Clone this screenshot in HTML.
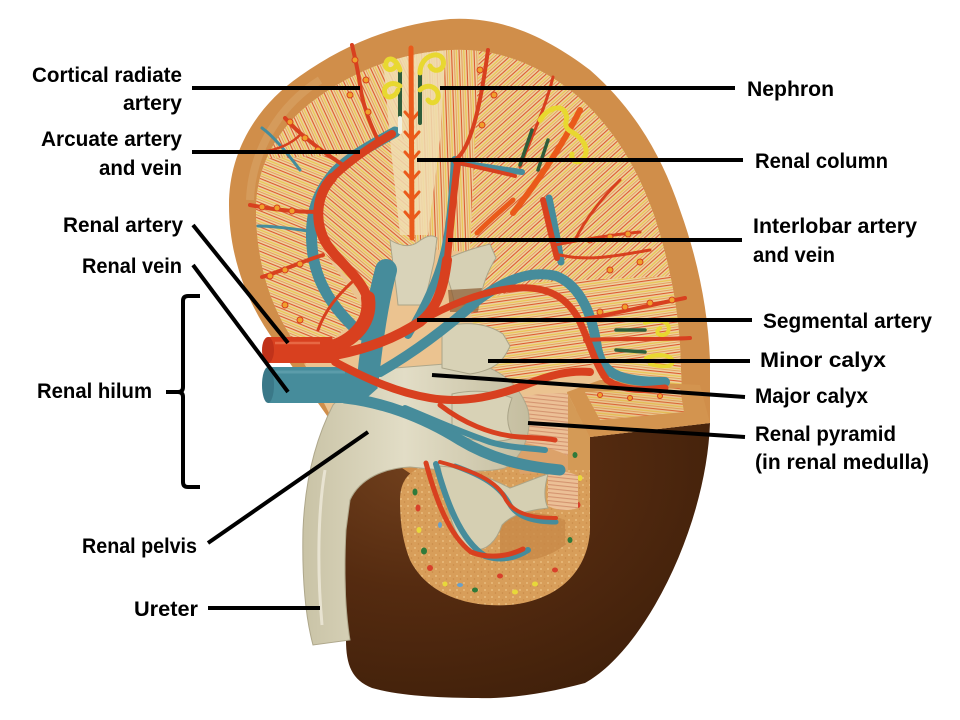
<!DOCTYPE html>
<html><head><meta charset="utf-8"><style>
html,body{margin:0;padding:0;background:#fff;}
svg{display:block;}
text{font-family:"Liberation Sans",Arial,sans-serif;font-weight:bold;font-size:21px;fill:#000;}
</style></head><body>
<svg width="960" height="720" viewBox="0 0 960 720" xmlns="http://www.w3.org/2000/svg" xmlns:xlink="http://www.w3.org/1999/xlink">
<defs>
 <pattern id="pS" patternUnits="userSpaceOnUse" width="12" height="7.5">
   <rect width="12" height="7.5" fill="#eed2a0"/>
   <rect y="0" width="12" height="1.1" fill="#dc5a30"/>
   <rect y="2.7" width="12" height="1.1" fill="#e8c64a"/>
   <rect y="5.0" width="12" height="0.9" fill="#e59a58"/>
 </pattern>
 <pattern id="p1" xlink:href="#pS" patternTransform="rotate(22)"/>
 <pattern id="p2" xlink:href="#pS" patternTransform="rotate(65)"/>
 <pattern id="p3" xlink:href="#pS" patternTransform="rotate(40)"/>
 <pattern id="p4" xlink:href="#pS" patternTransform="rotate(88)"/>
 <pattern id="p5" xlink:href="#pS" patternTransform="rotate(-42)"/>
 <pattern id="p6" xlink:href="#pS" patternTransform="rotate(-8)"/>
 <pattern id="p7" xlink:href="#pS" patternTransform="rotate(6)"/>
 <pattern id="pP" patternUnits="userSpaceOnUse" width="10" height="4" patternTransform="rotate(6)">
   <rect width="10" height="4" fill="#ecc096"/>
   <rect y="0" width="10" height="1.1" fill="#d49470"/>
 </pattern>
 <pattern id="pR" patternUnits="userSpaceOnUse" width="7" height="7">
   <rect width="7" height="7" fill="#d89e5a"/>
   <circle cx="2" cy="2" r="1" fill="#e8bc7c"/>
   <circle cx="5.5" cy="5" r="0.8" fill="#c98a48"/>
 </pattern>
 <clipPath id="cIn">
   <path d="M 290,335 C 268,300 256,258 256,208 C 257,160 282,122 320,96 C 357,70 402,52 452,50 C 500,48 540,66 575,94 C 610,124 636,164 654,215 C 668,258 677,300 680,345 L 682,395 L 600,400 L 420,470 L 330,415 Z"/>
 </clipPath>
 <radialGradient id="gB" cx="0.2" cy="0.15" r="0.9">
   <stop offset="0" stop-color="#71401d"/>
   <stop offset="0.5" stop-color="#552b10"/>
   <stop offset="1" stop-color="#42210b"/>
 </radialGradient>
 <linearGradient id="gU" x1="0" x2="1" y1="0" y2="0">
   <stop offset="0" stop-color="#c9c3a6"/>
   <stop offset="0.45" stop-color="#e2ddc6"/>
   <stop offset="1" stop-color="#c4bd9f"/>
 </linearGradient>
</defs>

<!-- brown base -->
<path d="M 345,505 C 345,482 356,470 378,466 L 420,466 L 590,437 L 710,423 C 708,480 688,548 655,605 C 630,648 605,672 585,683 C 545,694 505,699 478,698 C 440,698 400,696 372,688 C 352,680 346,665 346,640 Z" fill="url(#gB)"/>

<!-- kidney capsule -->
<path d="M 275,342 C 248,305 229,258 229,205 C 229,150 258,105 300,76 C 345,44 395,24 450,19 C 505,16 550,40 590,70 C 630,105 660,150 680,210 C 698,260 708,310 710,360 L 710,423 L 590,437 L 420,480 L 330,420 Z" fill="#d08e4a"/>
<path d="M 250,200 C 252,150 280,105 320,80" stroke="#d9a467" stroke-width="8" fill="none" opacity="0.6"/>

<!-- inner cortex sectors -->
<g clip-path="url(#cIn)">
 <rect x="220" y="30" width="480" height="460" fill="#ebc390"/>
 <polygon points="230,150 340,150 318,212 322,250 365,310 300,370 230,370" fill="url(#p1)"/>
 <polygon points="230,30 415,30 415,140 385,138 340,155 230,160" fill="url(#p2)"/>
 <polygon points="385,138 415,140 415,245 400,250 368,300 322,250 318,212 340,160" fill="url(#p3)"/>
 <polygon points="415,30 480,30 470,252 415,248" fill="url(#p4)"/>
 <polygon points="480,30 700,30 700,275 540,282 470,305 470,252" fill="url(#p5)"/>
 <polygon points="470,305 540,282 700,275 700,360 600,362 520,385 480,375" fill="url(#p6)"/>
 <polygon points="600,362 700,360 700,420 600,420" fill="url(#p7)"/>
 <!-- pale column -->
 <path d="M 382,48 L 446,48 L 440,140 L 428,235 L 400,235 L 390,140 Z" fill="#f0ddb0" opacity="0.85"/>
</g>

<!-- lower right cut face -->
<path d="M 567,392 L 600,380 L 700,385 L 710,423 L 590,437 Z" fill="#d3944f"/>
<path d="M 585,392 L 680,388 L 684,412 L 600,420 Z" fill="url(#p7)" opacity="0.8"/>

<!-- orange ring (cut cortex) -->
<path d="M 400,500 C 400,480 410,468 430,466 L 470,464 L 590,437 L 590,530 C 588,570 560,600 510,605 C 460,608 425,590 410,560 C 402,540 400,520 400,500 Z" fill="url(#pR)"/>
<path d="M 567,392 L 590,437 L 590,470 L 567,470 Z" fill="#d49a56"/>
<g>
 <ellipse cx="415" cy="492" rx="2.5" ry="3.5" fill="#2f7a3a"/>
 <ellipse cx="418" cy="508" rx="2.5" ry="3.5" fill="#d8402a"/>
 <ellipse cx="419" cy="530" rx="2.5" ry="3" fill="#e8d83a"/>
 <ellipse cx="424" cy="551" rx="3" ry="3.5" fill="#2f7a3a"/>
 <ellipse cx="430" cy="568" rx="3" ry="3" fill="#d8402a"/>
 <ellipse cx="445" cy="584" rx="2.5" ry="2.5" fill="#e8d83a"/>
 <ellipse cx="475" cy="590" rx="3" ry="2.5" fill="#2f7a3a"/>
 <ellipse cx="500" cy="576" rx="3" ry="2.5" fill="#d8402a"/>
 <ellipse cx="515" cy="592" rx="3" ry="2.5" fill="#e8d83a"/>
 <ellipse cx="535" cy="584" rx="3" ry="2.5" fill="#e8d83a"/>
 <ellipse cx="555" cy="570" rx="3" ry="2.5" fill="#d8402a"/>
 <ellipse cx="570" cy="540" rx="2.5" ry="3" fill="#2f7a3a"/>
 <ellipse cx="578" cy="505" rx="2.5" ry="3" fill="#d8402a"/>
 <ellipse cx="580" cy="478" rx="2.5" ry="3" fill="#e8d83a"/>
 <ellipse cx="575" cy="455" rx="2.5" ry="3" fill="#2f7a3a"/>
 <ellipse cx="460" cy="585" rx="3" ry="2" fill="#6aa0c8"/>
 <ellipse cx="440" cy="525" rx="2" ry="3" fill="#6aa0c8"/>
</g>
<path d="M 500,515 C 520,510 545,512 565,520 L 565,545 C 545,560 520,565 500,555 Z" fill="#c88847" opacity="0.8"/>

<!-- renal pyramids (peach) -->
<path d="M 510,400 C 530,394 552,392 568,394 L 568,455 C 550,462 530,458 515,446 C 509,430 507,415 510,400 Z" fill="url(#pP)"/>
<path d="M 548,474 C 560,470 572,472 578,476 L 578,508 C 566,512 556,510 548,506 Z" fill="url(#pP)"/>
<path d="M 510,440 C 530,444 555,448 568,456 L 568,472 L 520,474 Z" fill="#dca26a"/>

<!-- pelvis + ureter -->
<path d="M 333,405 C 350,385 370,372 395,368 L 470,362 C 500,368 520,385 528,410 C 532,430 525,455 505,468 C 480,474 440,470 410,467 C 385,468 360,478 350,500 L 346,530 C 344,570 345,610 350,640 L 313,645 C 305,615 302,575 303,530 C 305,480 315,440 333,405 Z" fill="url(#gU)" stroke="#aea78b" stroke-width="1"/>
<path d="M 325,470 C 318,510 317,570 322,625" stroke="#efeadb" stroke-width="3" fill="none" opacity="0.8"/>
<!-- calyces -->
<path d="M 390,240 C 400,246 410,248 418,242 C 426,236 432,234 437,238 L 434,262 C 430,278 428,292 422,305 L 398,305 C 396,285 393,265 390,240 Z" fill="#d9d3b9" stroke="#aaa488" stroke-width="1"/>
<path d="M 440,262 C 452,256 470,249 490,244 L 496,258 C 488,270 482,286 480,302 L 455,306 C 452,290 448,276 440,262 Z" fill="#d6d0b4" stroke="#aaa488" stroke-width="1"/>
<path d="M 448,290 L 482,288 L 478,312 L 450,312 Z" fill="#8a5a30" opacity="0.7"/>
<path d="M 442,330 C 458,320 485,322 503,334 L 510,346 C 504,360 496,370 470,374 L 442,368 Z" fill="#d8d2b6" stroke="#aaa488" stroke-width="1"/>
<path d="M 452,394 C 478,388 500,393 512,398 C 506,414 506,426 514,438 C 496,444 470,442 452,432 Z" fill="#d8d2b6" stroke="#aaa488" stroke-width="1"/>
<path d="M 440,466 C 468,468 490,478 510,488 C 522,484 535,478 548,474 C 544,488 544,500 548,508 C 530,510 512,514 502,525 C 496,542 486,552 470,550 C 455,540 448,512 444,490 Z" fill="#d5cfb2" stroke="#aaa488" stroke-width="1"/>

<!-- veins (teal) -->
<g fill="none" stroke="#468c9b" stroke-linecap="round">
 <path d="M 368,378 C 372,340 378,300 386,270" stroke-width="22"/>
 <path d="M 380,372 C 415,352 450,325 478,300 C 505,280 530,270 556,276 C 582,286 593,318 597,348 C 602,372 615,382 665,382" stroke-width="10"/>
 <path d="M 408,335 C 426,305 440,275 446,245 C 451,220 453,190 455,160" stroke-width="8"/>
 <path d="M 362,335 C 340,315 318,290 313,255 C 308,220 315,195 335,172 C 352,155 372,145 395,132" stroke-width="11"/>
 <path d="M 345,398 C 380,402 420,415 460,440 C 490,458 520,466 560,470" stroke-width="11"/>
 <path d="M 405,408 C 430,418 455,430 490,442 C 510,448 530,448 545,450" stroke-width="6"/>
 <path d="M 436,464 C 446,500 460,540 485,556 C 505,562 518,556 528,550" stroke-width="6"/>
 <path d="M 455,466 C 480,475 500,485 510,505 C 518,518 535,522 556,522" stroke-width="5"/>
 <path d="M 549,198 C 554,222 558,242 561,262" stroke-width="7"/>
 <path d="M 456,162 C 480,166 505,170 522,172" stroke-width="6"/>
 <path d="M 316,232 C 300,230 278,226 258,226" stroke-width="3"/>
 <path d="M 300,170 C 285,150 272,135 262,128" stroke-width="3"/>
</g>
<path d="M 268,367 L 350,367 L 356,403 L 268,403 Z" fill="#468c9b"/>
<path d="M 340,375 C 360,372 372,378 378,388 L 360,404 L 345,402 Z" fill="#468c9b"/>
<ellipse cx="268" cy="385" rx="6" ry="18" fill="#3a7888"/>
<path d="M 275,372 L 345,372" stroke="#6aa8b4" stroke-width="3" opacity="0.6"/>

<!-- arteries (red) -->
<g fill="none" stroke="#d8401f" stroke-linecap="round">
 <path d="M 320,350 C 350,345 372,325 368,298" stroke-width="14"/>
 <path d="M 368,300 C 362,278 338,262 326,243 C 314,222 316,195 332,178" stroke-width="10"/>
 <path d="M 332,178 C 348,162 368,148 392,134" stroke-width="8"/>
 <path d="M 335,355 C 370,348 395,338 420,322 C 438,308 444,285 447,260" stroke-width="10"/>
 <path d="M 447,262 C 450,235 452,205 458,160" stroke-width="7"/>
 <path d="M 430,316 C 460,300 490,290 515,288 C 545,286 565,295 578,318 C 590,342 595,365 607,380 C 625,392 645,390 665,388" stroke-width="7"/>
 <path d="M 335,362 C 365,378 395,392 430,398 C 465,404 500,395 525,385 C 550,375 570,370 590,372" stroke-width="8"/>
 <path d="M 440,405 C 462,422 490,435 520,437 C 535,438 545,438 555,440" stroke-width="5"/>
 <path d="M 426,463 C 436,500 449,535 471,552 C 491,560 511,555 523,549" stroke-width="5"/>
 <path d="M 440,462 C 470,470 498,480 506,500 C 515,515 535,518 556,518" stroke-width="4"/>
 <path d="M 343,165 C 320,150 300,135 285,118" stroke-width="4"/>
 <path d="M 318,212 C 300,212 275,210 250,205" stroke-width="4"/>
 <path d="M 323,255 C 300,262 285,270 262,277" stroke-width="4"/>
 <path d="M 352,282 C 338,295 325,310 318,330" stroke-width="3"/>
 <path d="M 378,140 C 368,120 362,100 360,85 C 358,70 355,58 352,45" stroke-width="4"/>
 <path d="M 455,160 C 470,150 480,110 488,50" stroke-width="4"/>
 <path d="M 455,162 C 480,168 500,172 515,176" stroke-width="4"/>
 <path d="M 553,77 C 545,110 530,140 520,167" stroke-width="3"/>
 <path d="M 543,200 C 548,220 552,240 557,258" stroke-width="6"/>
 <path d="M 555,245 C 580,240 610,235 640,232" stroke-width="3"/>
 <path d="M 560,255 C 590,262 620,255 650,250" stroke-width="3"/>
 <path d="M 578,320 C 610,315 650,305 685,298" stroke-width="4"/>
 <path d="M 585,340 C 620,338 660,340 690,338" stroke-width="4"/>
 <path d="M 300,135 C 290,145 275,150 262,152" stroke-width="2.5"/>
 <path d="M 620,180 C 600,200 585,220 575,240" stroke-width="3"/>
</g>
<g fill="none" stroke="#ea5a1a" stroke-linecap="round">
 <path d="M 411,48 L 412,238" stroke-width="5"/>
 <path d="M 580,110 C 560,150 535,185 513,213" stroke-width="6"/>
 <path d="M 477,233 C 490,220 502,210 513,200" stroke-width="5"/>
 <path d="M 412,120 l -7,-8 M 412,120 l 7,-8 M 412,140 l -7,-8 M 412,140 l 7,-8 M 412,160 l -7,-8 M 412,160 l 7,-8 M 412,180 l -7,-8 M 412,180 l 7,-8 M 412,200 l -7,-8 M 412,200 l 7,-8 M 412,220 l -7,-8 M 412,220 l 7,-8" stroke-width="3"/>
</g>
<path d="M 268,337 L 332,337 L 340,363 L 268,363 Z" fill="#d8401f"/>
<ellipse cx="268" cy="350" rx="6" ry="13" fill="#c0321a"/>
<path d="M 275,343 L 320,343" stroke="#ee7a55" stroke-width="2.5" opacity="0.7"/>

<!-- nephrons -->
<g fill="none" stroke-linecap="round">
 <path d="M 400,70 L 400,130" stroke="#2f5e3a" stroke-width="4"/>
 <path d="M 420,73 L 420,123" stroke="#2f5e3a" stroke-width="4"/>
 <path d="M 400,118 L 400,132" stroke="#f0f0e0" stroke-width="4"/>
 <path d="M 400,70 C 396,58 388,56 386,63 C 384,70 392,72 396,66" stroke="#e8d830" stroke-width="5"/>
 <path d="M 400,86 C 392,80 382,86 385,94 C 388,100 396,96 398,90" stroke="#e8d830" stroke-width="5"/>
 <path d="M 420,73 C 420,55 440,50 443,60 C 446,70 434,74 430,66" stroke="#e8d830" stroke-width="5"/>
 <path d="M 420,90 C 428,82 440,88 438,98 C 436,104 430,104 428,100" stroke="#e8d830" stroke-width="5"/>
 <path d="M 540,120 C 548,108 560,104 565,112 C 570,120 560,126 572,132 C 582,138 590,148 584,158 C 578,166 570,160 572,154" stroke="#e8d830" stroke-width="5"/>
 <path d="M 532,130 L 520,165" stroke="#2f5e3a" stroke-width="3.5"/>
 <path d="M 548,140 L 538,170" stroke="#2f5e3a" stroke-width="3.5"/>
 <path d="M 616,330 L 645,330" stroke="#2f5e3a" stroke-width="3.5"/>
 <path d="M 616,350 L 645,352" stroke="#2f5e3a" stroke-width="3.5"/>
 <path d="M 645,323 C 660,318 672,322 668,332 C 664,338 652,334 660,328" stroke="#e8d830" stroke-width="4"/>
 <path d="M 646,358 C 660,352 676,356 672,364 C 668,368 656,366 650,364" stroke="#e8d830" stroke-width="4"/>
</g>
<!-- glomeruli dots -->
<g fill="#f0a02c" stroke="#d8401f" stroke-width="1">
 <circle cx="262" cy="207" r="3"/><circle cx="277" cy="208" r="3"/><circle cx="292" cy="211" r="3"/>
 <circle cx="270" cy="276" r="3"/><circle cx="285" cy="270" r="3"/><circle cx="300" cy="264" r="3"/>
 <circle cx="290" cy="122" r="3"/><circle cx="305" cy="138" r="3"/><circle cx="318" cy="150" r="3"/>
 <circle cx="355" cy="60" r="3"/><circle cx="366" cy="80" r="3"/><circle cx="350" cy="95" r="3"/><circle cx="368" cy="112" r="3"/>
 <circle cx="480" cy="70" r="3"/><circle cx="494" cy="95" r="3"/><circle cx="482" cy="125" r="3"/>
 <circle cx="590" cy="240" r="3"/><circle cx="610" cy="237" r="3"/><circle cx="628" cy="234" r="3"/>
 <circle cx="600" cy="312" r="3"/><circle cx="625" cy="307" r="3"/><circle cx="650" cy="303" r="3"/><circle cx="672" cy="300" r="3"/>
 <circle cx="610" cy="270" r="3"/><circle cx="640" cy="262" r="3"/><circle cx="300" cy="320" r="3"/><circle cx="285" cy="305" r="3"/>
 <circle cx="600" cy="395" r="2.5"/><circle cx="630" cy="398" r="2.5"/><circle cx="660" cy="396" r="2.5"/>
</g>

<!-- leader lines -->
<g stroke="#000" stroke-width="4" fill="none">
 <line x1="192" y1="88" x2="360" y2="88"/>
 <line x1="192" y1="152" x2="360" y2="152"/>
 <line x1="193" y1="225" x2="288" y2="343"/>
 <line x1="193" y1="265" x2="288" y2="392"/>
 <path d="M 200,296 L 188,296 Q 183,296 183,301 L 183,387 Q 183,392 178,392 L 166,392 M 178,392 Q 183,392 183,397 L 183,482 Q 183,487 188,487 L 200,487"/>
 <line x1="208" y1="543" x2="368" y2="432"/>
 <line x1="208" y1="608" x2="320" y2="608"/>
 <line x1="440" y1="88" x2="735" y2="88"/>
 <line x1="417" y1="160" x2="743" y2="160"/>
 <line x1="448" y1="240" x2="742" y2="240"/>
 <line x1="417" y1="320" x2="752" y2="320"/>
 <line x1="488" y1="361" x2="750" y2="361"/>
 <line x1="432" y1="375" x2="745" y2="397"/>
 <line x1="528" y1="423" x2="745" y2="437"/>
</g>

<!-- labels -->
<text x="32" y="82" textLength="150" lengthAdjust="spacingAndGlyphs">Cortical radiate</text>
<text x="123" y="110" textLength="59" lengthAdjust="spacingAndGlyphs">artery</text>
<text x="41" y="146" textLength="141" lengthAdjust="spacingAndGlyphs">Arcuate artery</text>
<text x="99" y="175" textLength="83" lengthAdjust="spacingAndGlyphs">and vein</text>
<text x="63" y="232" textLength="120" lengthAdjust="spacingAndGlyphs">Renal artery</text>
<text x="82" y="273" textLength="100" lengthAdjust="spacingAndGlyphs">Renal vein</text>
<text x="37" y="398" textLength="115" lengthAdjust="spacingAndGlyphs">Renal hilum</text>
<text x="82" y="553" textLength="115" lengthAdjust="spacingAndGlyphs">Renal pelvis</text>
<text x="134" y="616" textLength="64" lengthAdjust="spacingAndGlyphs">Ureter</text>
<text x="747" y="96" textLength="87" lengthAdjust="spacingAndGlyphs">Nephron</text>
<text x="755" y="168" textLength="133" lengthAdjust="spacingAndGlyphs">Renal column</text>
<text x="753" y="233" textLength="164" lengthAdjust="spacingAndGlyphs">Interlobar artery</text>
<text x="753" y="262" textLength="82" lengthAdjust="spacingAndGlyphs">and vein</text>
<text x="763" y="328" textLength="169" lengthAdjust="spacingAndGlyphs">Segmental artery</text>
<text x="760" y="367" textLength="126" lengthAdjust="spacingAndGlyphs">Minor calyx</text>
<text x="755" y="403" textLength="113" lengthAdjust="spacingAndGlyphs">Major calyx</text>
<text x="755" y="441" textLength="141" lengthAdjust="spacingAndGlyphs">Renal pyramid</text>
<text x="755" y="469" textLength="174" lengthAdjust="spacingAndGlyphs">(in renal medulla)</text>
</svg>
</body></html>
